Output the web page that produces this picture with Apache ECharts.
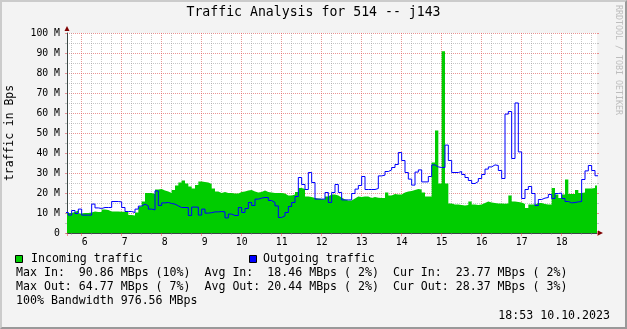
<!DOCTYPE html>
<html>
<head>
<meta charset="utf-8">
<script src="https://cdn.jsdelivr.net/npm/echarts@6/dist/echarts.min.js"></script>
<style>
html,body{margin:0;padding:0;background:#f3f3f3;}
#wrap{position:relative;width:627px;height:329px;overflow:hidden;}
#chart{position:absolute;left:0;top:0;width:627px;height:329px;}
#frame{position:absolute;left:0;top:0;width:627px;height:329px;box-sizing:border-box;border-style:solid;border-width:2px;border-color:#cbcbcb #999999 #999999 #cbcbcb;pointer-events:none;}
</style>
</head>
<body>
<div id="wrap"><div id="chart"></div><div id="frame"></div></div>
<script>
// ---------------- data ----------------
const chartTitle = 'Traffic Analysis for 514 -- j143';
const yAxisTitle = 'traffic in Bps';
const watermark = 'RRDTOOL / TOBI OETIKER';
const seriesNames = ['Incoming traffic', 'Outgoing traffic'];
const firstStepStart = '05:35';   // start of first 5-minute step
const stepMinutes = 5;
const viewStart = '05:38';
const viewEnd = '18:53';
const hourLabels = [' 6',' 7',' 8',' 9','10','11','12','13','14','15','16','17','18'];
const firstLabelHour = 6;
const yTickLabels = ['0','10 M','20 M','30 M','40 M','50 M','60 M','70 M','80 M','90 M','100 M'];

// incoming traffic, MBps, one value per 5-minute step
const incoming = [
  10, 10, 10.5, 11.2, 9.7, 10, 10, 10.2, 10.7, 10.5,
  10.5, 11.8, 11.5, 10.8, 10.8, 10.8, 10.6, 10.6, 10.8, 9.0,
  8.8, 10.3, 13.3, 15.8, 20, 20, 19.5, 21.8, 22, 21.3,
  20.8, 20, 21.5, 23.7, 25.2, 26.3, 24.8, 23.3, 22.2, 24,
  25.8, 25.5, 25.3, 24.5, 22.3, 20.8, 20, 20.5, 20, 20,
  19.7, 19.8, 20.5, 20.8, 21.2, 21.5, 20.8, 20.3, 20.5, 21.2,
  20.5, 20.2, 20, 20, 20, 19.8, 18.8, 18.8, 19.2, 20.5,
  22.5, 22, 18.3, 18, 17.5, 17.2, 17, 16.7, 18.3, 19.2,
  19.2, 18.8, 17.8, 16.8, 16.2, 16.3, 17.3, 18.2, 18, 18.3,
  18.2, 17.5, 18, 17.6, 17.5, 17.5, 20.3, 18.8, 19.5, 19.2,
  19.3, 20.3, 20.8, 21, 21.5, 22, 21.7, 20.3, 18.3, 18.3,
  35.3, 51.2, 24.7, 90.86, 24.7, 14.7, 14.3, 14.2, 14.0, 13.8,
  14.0, 15.8, 14.2, 14.0, 14.2, 15.0, 15.8, 15.2, 15.0, 14.8,
  14.7, 14.6, 14.8, 18.8, 15.8, 15.5, 15.3, 14.5, 12.5, 14.2,
  14.2, 15, 15, 14.5, 14.2, 14.2, 22.5, 19.2, 17.5, 19.2,
  26.7, 19.5, 19.5, 21.5, 20, 20.3, 22.2, 22.2, 22.5, 23.77
];
// outgoing traffic, MBps, one value per 5-minute step
const outgoing = [
  10, 8.7, 11, 9.5, 11.7, 8.7, 8.7, 8.7, 14.2, 12.3,
  12, 12.5, 12.5, 12.5, 15.5, 15.5, 15.3, 12.5, 10.5, 10.5,
  10, 11.7, 13.2, 14.2, 13.3, 11.7, 11.3, 20.8, 13.5, 14.8,
  15, 14.5, 14.2, 13.3, 12.5, 12.5, 12.5, 8.5, 12.7, 12.7,
  8.7, 11.7, 9.7, 9.9, 10.3, 10.3, 10.5, 10.3, 7.3, 9.2,
  8.5, 8.5, 12.5, 10, 12, 15, 13.5, 16.7, 17.2, 17.5,
  17.5, 16, 15, 13.3, 7.5, 8.3, 10, 13, 15, 18,
  27.5, 24, 21.5, 30, 25, 16.7, 16.7, 16.7, 20, 15,
  20, 24, 20, 16.3, 16.3, 16.3, 19.5, 21.7, 23.5, 28,
  21.5, 21.5, 21.5, 22, 28.3, 28.7, 30.5, 31.3, 32.5, 34,
  40, 36, 30, 26.7, 23.7, 30.2, 31.3, 25.3, 25.3, 28,
  33.8, 32.8, 32.5, 32.5, 43.7, 36, 30, 30, 30.5, 29,
  27.5, 26, 24.5, 25.5, 27, 29, 31.7, 32.8, 33.8, 33.5,
  31, 27, 59.2, 60.5, 37, 64.77, 40.3, 17, 21.5, 23,
  19.5, 13.5, 16.5, 17.2, 17.5, 19, 17, 19.5, 19.7, 17,
  15.5, 14.8, 15, 15.3, 15.5, 26.5, 30.8, 33.5, 31, 28.37
];

const statsIn  = { max: '90.86', maxPct: '10%', avg: '18.46', avgPct: ' 2%', cur: '23.77', curPct: ' 2%' };
const statsOut = { max: '64.77', maxPct: ' 7%', avg: '20.44', avgPct: ' 2%', cur: '28.37', curPct: ' 3%' };
const bandwidth = '976.56';
const timestamp = '18:53 10.10.2023';

// ---------------- styling ----------------
const FONT = 'DejaVu Sans Mono';
const GREEN = '#00CC00';
const BLUE = '#0000FF';
const MGRID = 'rgba(224,79,79,0.6)';
const GRID = 'rgba(143,143,143,0.5)';
const AXIS = '#3a4744';
const ARROW = '#7F0000';

function hm(s) { const p = s.split(':'); return +p[0] + (+p[1]) / 60; }
const t0 = hm(firstStepStart);
const stepH = stepMinutes / 60;
const xMin = hm(viewStart);
const xMax = hm(viewEnd);

function toSteps(arr) {
  const d = arr.map((v, i) => [t0 + i * stepH, v]);
  d.push([t0 + arr.length * stepH, arr[arr.length - 1]]);
  return d;
}

function isInt(v) { return Math.abs(v - Math.round(v)) < 1e-6; }

const chart = echarts.init(document.getElementById('chart'), null, { renderer: 'canvas', width: 627, height: 329 });

function txt(text, x, y, size, opts) {
  opts = opts || {};
  return {
    type: 'text', x: x, y: y, rotation: opts.rotation || 0, silent: true, z: 100,
    style: {
      text: text, fill: opts.color || '#000', fontSize: size, fontFamily: FONT,
      textAlign: opts.align || 'left', textVerticalAlign: 'middle',
      align: opts.align || 'left', verticalAlign: 'middle'
    }
  };
}

const row1 = `Max In:  ${statsIn.max} MBps (${statsIn.maxPct})  Avg In:  ${statsIn.avg} MBps (${statsIn.avgPct})  Cur In:  ${statsIn.cur} MBps (${statsIn.curPct})`;
const row2 = `Max Out: ${statsOut.max} MBps (${statsOut.maxPct})  Avg Out: ${statsOut.avg} MBps (${statsOut.avgPct})  Cur Out: ${statsOut.cur} MBps (${statsOut.curPct})`;
const row3 = `100% Bandwidth ${bandwidth} MBps`;

const option = {
  animation: false,
  backgroundColor: '#f3f3f3',
  textStyle: { fontFamily: FONT },
  grid: [
    { show: true, backgroundColor: '#ffffff', borderWidth: 0, containLabel: false, left: 67, top: 33, width: 530, height: 200 },
    { show: false, containLabel: false, left: 67, top: 32.5, width: 530, height: 200 }
  ],
  xAxis: [
    {
      type: 'value', gridIndex: 0, min: xMin, max: xMax, minInterval: 1, maxInterval: 1, splitNumber: 13,
      position: 'bottom',
      axisLine: { show: true, onZero: false, lineStyle: { color: AXIS, width: 1 } },
      axisTick: { show: true, length: 3, lineStyle: { color: MGRID } },
      minorTick: { show: true, splitNumber: 4, length: 2, lineStyle: { color: GRID } },
      axisLabel: {
        show: true, margin: 4, fontSize: 9.8, fontFamily: FONT, color: '#000',
        showMinLabel: false, showMaxLabel: false,
        formatter: function (v) { return isInt(v) ? (hourLabels[Math.round(v) - firstLabelHour] || '') : ''; }
      },
      splitLine: { show: true, showMinLine: false, showMaxLine: false, lineStyle: { color: MGRID, width: 1, type: [1, 1] } },
      minorSplitLine: { show: true, lineStyle: { color: GRID, width: 1, type: [1, 1] } }
    },
    {
      type: 'value', gridIndex: 0, min: xMin, max: xMax, position: 'bottom',
      axisLine: { show: true, onZero: false, symbol: ['none', 'triangle'], symbolSize: [5, 5], symbolOffset: [0, 3.5],
        lineStyle: { color: ARROW, opacity: 0 } },
      axisTick: { show: false }, axisLabel: { show: false }, splitLine: { show: false }
    },
    {
      type: 'value', gridIndex: 0, min: xMin, max: xMax, minInterval: 1, maxInterval: 1, splitNumber: 13, position: 'top',
      axisLine: { show: false },
      axisTick: { show: true, length: 2, lineStyle: { color: MGRID } },
      minorTick: { show: true, splitNumber: 4, length: 2, lineStyle: { color: GRID } },
      axisLabel: { show: false }, splitLine: { show: false }
    },
    {
      type: 'value', gridIndex: 1, min: xMin, max: xMax, show: false
    }
  ],
  yAxis: [
    {
      type: 'value', gridIndex: 0, min: 0, max: 100, interval: 10, position: 'left',
      axisLine: { show: true, onZero: false, lineStyle: { color: AXIS, width: 1 } },
      axisTick: { show: true, length: 2, lineStyle: { color: MGRID } },
      minorTick: { show: true, splitNumber: 2, length: 2, lineStyle: { color: GRID } },
      axisLabel: {
        show: true, margin: 7, fontSize: 9.8, fontFamily: FONT, color: '#000',
        formatter: function (v) { return yTickLabels[Math.round(v / 10)]; }
      },
      splitLine: { show: true, showMinLine: false, lineStyle: { color: MGRID, width: 1, type: [1, 1] } },
      minorSplitLine: { show: true, lineStyle: { color: GRID, width: 1, type: [1, 1] } }
    },
    {
      type: 'value', gridIndex: 0, min: 0, max: 100, interval: 10, position: 'left',
      axisLine: { show: true, onZero: false, symbol: ['none', 'triangle'], symbolSize: [5, 5], symbolOffset: [0, 4.5],
        lineStyle: { color: ARROW, opacity: 0 } },
      axisTick: { show: false }, axisLabel: { show: false }, splitLine: { show: false }
    },
    {
      type: 'value', gridIndex: 0, min: 0, max: 100, interval: 10, position: 'right',
      axisLine: { show: false },
      axisTick: { show: true, length: 2, lineStyle: { color: MGRID } },
      minorTick: { show: true, splitNumber: 2, length: 2, lineStyle: { color: GRID } },
      axisLabel: { show: false }, splitLine: { show: false }
    },
    {
      type: 'value', gridIndex: 1, min: 0, max: 100, interval: 10, show: false
    }
  ],
  series: [
    {
      name: seriesNames[0], type: 'line', step: 'end', xAxisIndex: 0, yAxisIndex: 0,
      data: toSteps(incoming), showSymbol: false, symbol: 'none',
      lineStyle: { width: 0, color: GREEN }, itemStyle: { color: GREEN },
      areaStyle: { color: GREEN, opacity: 1 }, z: 2
    },
    {
      name: seriesNames[1], type: 'line', step: 'end', xAxisIndex: 3, yAxisIndex: 3,
      data: toSteps(outgoing), showSymbol: false, symbol: 'none',
      lineStyle: { width: 1, color: BLUE }, itemStyle: { color: BLUE }, z: 3
    }
  ],
  graphic: { elements: [
    txt(chartTitle, 313.5, 13, 13.2, { align: 'center' }),
    txt(yAxisTitle, 10.5, 133, 11.4, { align: 'center', rotation: Math.PI / 2 }),
    txt(watermark, 618.5, 60, 8.3, { align: 'center', rotation: -Math.PI / 2, color: '#bdbdbd' }),
    { type: 'rect', silent: true, z: 100, shape: { x: 15.5, y: 255.5, width: 7, height: 7 }, style: { fill: GREEN, stroke: '#000', lineWidth: 1 } },
    txt(seriesNames[0], 31, 259.3, 11.6),
    { type: 'rect', silent: true, z: 100, shape: { x: 249.5, y: 255.5, width: 7, height: 7 }, style: { fill: BLUE, stroke: '#000', lineWidth: 1 } },
    txt(seriesNames[1], 263, 259.3, 11.6),
    txt(row1, 16, 272.8, 11.6),
    txt(row2, 16, 286.5, 11.6),
    txt(row3, 16, 300.6, 11.6),
    txt(timestamp, 610, 315.8, 11.6, { align: 'right' })
  ] }
};

chart.setOption(option);
</script>
</body>
</html>
